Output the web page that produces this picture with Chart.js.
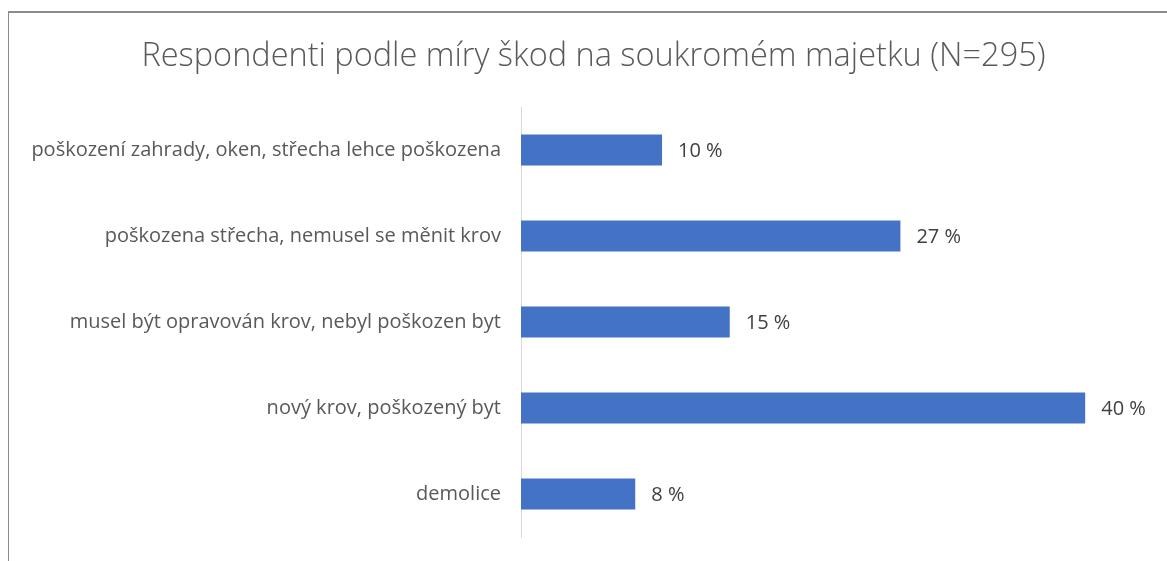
<!DOCTYPE html>
<html>
<head>
<meta charset="utf-8">
<script src="https://cdn.jsdelivr.net/npm/chart.js@4"></script>
<style>
  html, body { margin: 0; padding: 0; background: #fff; overflow: hidden; }
  #wrap { position: relative; width: 1167px; height: 561px; }
  #frame { position: absolute; left: 8px; top: 11px; width: 1200px; height: 600px;
           border-left: 1px solid #8c8c8c; border-top: 2px solid #8c8c8c; box-sizing: border-box; }
  canvas { position: absolute; left: 0; top: 0; }
</style>
</head>
<body>
<div id="wrap">
  <div id="frame"></div>
  <canvas id="chart" width="1167" height="561"></canvas>
</div>
<script>
// Data
const categories = [
  "poškození zahrady, oken, střecha lehce poškozena",
  "poškozena střecha, nemusel se měnit krov",
  "musel být opravován krov, nebyl poškozen byt",
  "nový krov, poškozený byt",
  "demolice"
];
const shares = [10, 26.9, 14.8, 40, 8.1];
const titleText = "Respondenti podle míry škod na soukromém majetku (N=295)";

// Popisky hodnot vedle sloupců
const valueLabels = {
  id: "valueLabels",
  afterDatasetsDraw(chart) {
    const ctx = chart.ctx;
    const meta = chart.getDatasetMeta(0);
    ctx.save();
    ctx.font = "20px 'Open Sans'";
    ctx.fillStyle = "#404040";
    ctx.textAlign = "left";
    ctx.textBaseline = "middle";
    meta.data.forEach((bar, i) => {
      ctx.fillText(Math.round(shares[i]) + " %", bar.x + 16, bar.y + 1);
    });
    ctx.restore();
  }
};

const ctx = document.getElementById("chart").getContext("2d");
new Chart(ctx, {
  type: "bar",
  data: {
    labels: categories,
    datasets: [{
      data: shares,
      backgroundColor: "#4472C4",
      borderWidth: 0,
      categoryPercentage: 1,
      barPercentage: 0.36
    }]
  },
  options: {
    indexAxis: "y",
    responsive: false,
    animation: false,
    layout: { padding: { left: 20, right: 0, top: 0, bottom: 0 } },
    scales: {
      x: { display: false, min: 0, max: 45.8 },
      y: {
        grid: { display: false },
        border: { color: "#d9d9d9", width: 1 },
        ticks: { color: "#595959", font: { family: "'Open Sans'", size: 20 }, padding: 12 },
        afterFit(scale) { scale.width = 501; }
      }
    },
    plugins: {
      legend: { display: false },
      tooltip: { enabled: false },
      title: {
        display: true,
        text: titleText,
        color: "#595959",
        font: { family: "'Open Sans'", size: 32.5, weight: "300" },
        padding: { top: 37, bottom: 31 }
      }
    }
  },
  plugins: [valueLabels]
});
</script>
</body>
</html>
